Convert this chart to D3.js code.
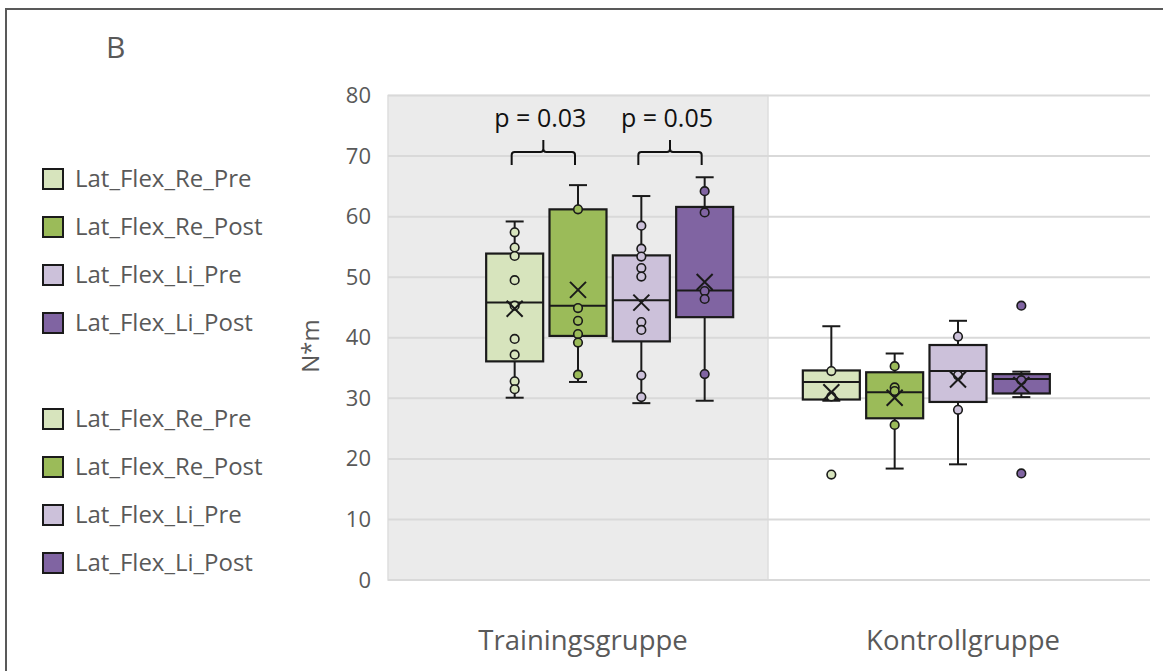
<!DOCTYPE html>
<html>
<head>
<meta charset="utf-8">
<script src="https://cdn.jsdelivr.net/npm/d3@7"></script>
<style>
  body { margin: 0; background: #fff; }
  text { font-family: "Open Sans", sans-serif; }
</style>
</head>
<body>
<div id="chart"></div>
<script>
// Categories and series
const groups = ["Trainingsgruppe", "Kontrollgruppe"];
const series = ["Lat_Flex_Re_Pre", "Lat_Flex_Re_Post", "Lat_Flex_Li_Pre", "Lat_Flex_Li_Post"];
const colors = ["#d7e4bd", "#9bbb59", "#ccc1da", "#8064a2"];
const yTicks = [0, 10, 20, 30, 40, 50, 60, 70, 80];

// Box statistics per group, one entry per series: [low whisker, q1, median, q3, high whisker, mean]
const trainingStats = [
    [30.1, 36.1, 45.8, 53.9, 59.2, 44.8],
    [32.7, 40.3, 45.3, 61.2, 65.2, 47.9],
    [29.2, 39.4, 46.2, 53.6, 63.4, 45.8],
    [29.6, 43.4, 47.8, 61.6, 66.5, 49.2]
];
const controlStats = [
    [29.6, 29.8, 32.7, 34.6, 41.9, 31.0],
    [18.4, 26.7, 31.0, 34.3, 37.4, 30.1],
    [19.1, 29.4, 34.5, 38.8, 42.8, 33.1],
    [30.2, 30.8, 33.2, 34.0, 34.4, 32.2]
];

// Single data points shown (inner points and outliers)
const trainingPoints = [
    [57.4, 54.9, 53.5, 49.5, 45.3, 39.8, 37.2, 32.8, 31.5],
    [61.2, 44.9, 42.8, 40.6, 39.2, 33.9],
    [58.5, 54.7, 53.4, 51.5, 50.1, 42.6, 41.3, 33.8, 30.2],
    [64.2, 60.7, 47.7, 46.4, 34.0]
];
const controlPoints = [
    [34.5, 30.3, 17.4],
    [35.3, 31.8, 31.2, 25.6],
    [40.2, 33.8, 28.1],
    [45.3, 33.0, 17.6]
];

// Significance brackets: [group, series from, series to, label]
const pLabels = [
    [0, 0, 1, "p = 0.03"],
    [0, 2, 3, "p = 0.05"]
];

const width = 1163;
const height = 671;
const textGrey = "#595959";

const svg = d3.select("#chart")
    .append("svg")
    .attr("width", width)
    .attr("height", height);

// Outer frame
svg.append("rect")
    .attr("x", 6)
    .attr("y", 9)
    .attr("width", 1170)
    .attr("height", 700)
    .attr("fill", "none")
    .attr("stroke", "#595959")
    .attr("stroke-width", 2);

// Scales
const y = d3.scaleLinear().domain([0, 80]).range([580, 95.5]);
const xGroup = d3.scaleBand().domain(groups).range([388, 1148]);
// slot scale: 6 slots per group, boxes sit on slots 0-3 and 5-8
const xSlot = d3.scaleLinear().domain([-2, 10]).range([388, 1148]);
const slotOf = (g, s) => g * 5 + s;
const boxW = 57;

// Grey panel behind the training group
svg.append("rect")
    .attr("x", xGroup("Trainingsgruppe"))
    .attr("y", y(80))
    .attr("width", xGroup.bandwidth())
    .attr("height", y(0) - y(80))
    .attr("fill", "#ebebeb")
    .attr("stroke", "#dedede")
    .attr("stroke-width", 1.5);

// Horizontal grid lines
svg.append("g")
    .selectAll("line")
    .data(yTicks)
    .enter()
    .append("line")
    .attr("x1", 388)
    .attr("x2", 1150)
    .attr("y1", d => y(d))
    .attr("y2", d => y(d))
    .attr("stroke", "#d9d9d9")
    .attr("stroke-width", 2);

// Y axis labels
const yAxis = svg.append("g")
    .attr("transform", "translate(388,0)")
    .call(d3.axisLeft(y).tickValues(yTicks).tickSize(0).tickPadding(17));
yAxis.select(".domain").remove();
yAxis.selectAll("text")
    .style("font-family", "Open Sans")
    .style("font-size", "22px")
    .attr("fill", textGrey);

// X axis labels
const xAxis = svg.append("g")
    .attr("transform", "translate(0,627)")
    .call(d3.axisBottom(xGroup).tickSize(0));
xAxis.select(".domain").remove();
xAxis.selectAll("text")
    .style("font-family", "Open Sans")
    .style("font-size", "27.5px")
    .attr("fill", textGrey)
    .attr("dx", 5);

// Y axis title
svg.append("text")
    .attr("transform", "translate(319,346) rotate(-90)")
    .attr("text-anchor", "middle")
    .style("font-size", "24px")
    .attr("fill", textGrey)
    .text("N*m");

// Panel letter
svg.append("text")
    .attr("x", 106)
    .attr("y", 58)
    .style("font-size", "30px")
    .attr("fill", textGrey)
    .text("B");

// Build flat list of boxes
const boxes = [];
[trainingStats, controlStats].forEach((stats, g) => {
    stats.forEach((st, s) => {
        boxes.push({
            g: g, s: s,
            low: st[0], q1: st[1], med: st[2], q3: st[3], high: st[4], mean: st[5],
            points: (g === 0 ? trainingPoints : controlPoints)[s]
        });
    });
});

const boxG = svg.append("g")
    .selectAll("g")
    .data(boxes)
    .enter()
    .append("g")
    .attr("transform", d => `translate(${xSlot(slotOf(d.g, d.s))},0)`);

const stroke = "#1a1a1a";

// Whiskers
boxG.append("line")
    .attr("x1", 0).attr("x2", 0)
    .attr("y1", d => y(d.high)).attr("y2", d => y(d.low))
    .attr("stroke", stroke).attr("stroke-width", 2);
boxG.append("line")
    .attr("x1", -9).attr("x2", 9)
    .attr("y1", d => y(d.high)).attr("y2", d => y(d.high))
    .attr("stroke", stroke).attr("stroke-width", 2);
boxG.append("line")
    .attr("x1", -9).attr("x2", 9)
    .attr("y1", d => y(d.low)).attr("y2", d => y(d.low))
    .attr("stroke", stroke).attr("stroke-width", 2);

// Boxes
boxG.append("rect")
    .attr("x", -boxW / 2)
    .attr("y", d => y(d.q3))
    .attr("width", boxW)
    .attr("height", d => y(d.q1) - y(d.q3))
    .attr("fill", d => colors[d.s])
    .attr("stroke", stroke)
    .attr("stroke-width", 2.2);

// Median
boxG.append("line")
    .attr("x1", -boxW / 2).attr("x2", boxW / 2)
    .attr("y1", d => y(d.med)).attr("y2", d => y(d.med))
    .attr("stroke", stroke).attr("stroke-width", 2);

// Points
boxG.each(function(d) {
    d3.select(this).selectAll("circle")
        .data(d.points)
        .enter()
        .append("circle")
        .attr("cx", 0)
        .attr("cy", v => y(v))
        .attr("r", 4.3)
        .attr("fill", colors[d.s])
        .attr("stroke", stroke)
        .attr("stroke-width", 1.6);
});

// Mean marker (X)
const mx = 8;
boxG.append("path")
    .attr("d", d => `M${-mx},${y(d.mean) - mx}L${mx},${y(d.mean) + mx}M${mx},${y(d.mean) - mx}L${-mx},${y(d.mean) + mx}`)
    .attr("stroke", stroke)
    .attr("stroke-width", 2)
    .attr("fill", "none");

// Significance brackets
const brk = svg.append("g")
    .selectAll("g")
    .data(pLabels)
    .enter()
    .append("g");
brk.append("path")
    .attr("d", d => {
        const x1 = xSlot(slotOf(d[0], d[1])) - 3;
        const x2 = xSlot(slotOf(d[0], d[2])) - 3;
        const xm = (x1 + x2) / 2;
        return `M${x1},165L${x1},155Q${x1},152 ${x1 + 3},152L${xm - 3},152Q${xm},152 ${xm},149L${xm},140` +
               `M${xm},149Q${xm},152 ${xm + 3},152L${x2 - 3},152Q${x2},152 ${x2},155L${x2},165`;
    })
    .attr("fill", "none")
    .attr("stroke", "#111")
    .attr("stroke-width", 2);
brk.append("text")
    .attr("x", d => (xSlot(slotOf(d[0], d[1])) + xSlot(slotOf(d[0], d[2]))) / 2 - 6)
    .attr("y", 127)
    .attr("text-anchor", "middle")
    .style("font-size", "25px")
    .attr("fill", "#111")
    .text(d => d[3]);

// Legend (two identical blocks)
const legendRows = series.concat(series).map((name, i) => ({ name: name, s: i % 4, i: i }));
const legend = svg.append("g")
    .selectAll("g")
    .data(legendRows)
    .enter()
    .append("g")
    .attr("transform", d => `translate(43,${179 + d.i * 48 + (d.i >= 4 ? 48 : 0)})`);
legend.append("rect")
    .attr("x", 0)
    .attr("y", -10)
    .attr("width", 20)
    .attr("height", 20)
    .attr("fill", d => colors[d.s])
    .attr("stroke", stroke)
    .attr("stroke-width", 2);
legend.append("text")
    .attr("x", 32)
    .attr("y", 0)
    .attr("dy", "0.35em")
    .style("font-size", "24px")
    .attr("fill", textGrey)
    .text(d => d.name);
</script>
</body>
</html>
